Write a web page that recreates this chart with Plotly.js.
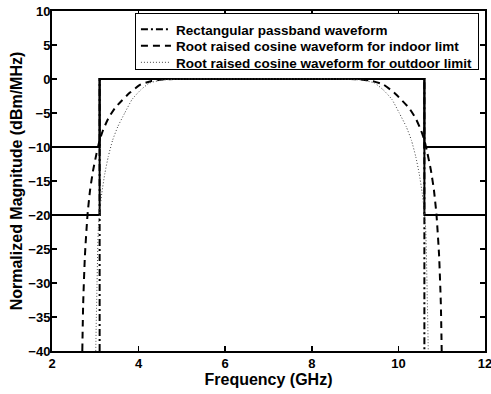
<!DOCTYPE html>
<html>
<head>
<meta charset="utf-8">
<script src="https://cdn.plot.ly/plotly-3.0.1.min.js"></script>
<style>html,body{margin:0;padding:0;background:#fff;}#chart{width:491px;height:394px;}</style>
</head>
<body>
<div id="chart"></div>
<script>
// FCC masks (solid)
const maskFreq = [2, 3.1, 3.1, 10.6, 10.6, 12];
const indoorMask = [-10, -10, 0, 0, -10, -10];
const outdoorMask = [-20, -20, 0, 0, -20, -20];

// Rectangular passband waveform
const rectFreq = [3.1, 3.1, 10.6, 10.6];
const rectMag = [-40, 0, 0, -40];

// Root raised cosine waveform, indoor limit
const rrcIndoorFreq = [2.70, 2.72, 2.76, 2.82, 2.88, 2.95, 3.03, 3.10, 3.18, 3.30, 3.45, 3.61, 3.80, 4.05, 4.30, 4.60, 5.00,
  8.70, 9.10, 9.40, 9.65, 9.90, 10.09, 10.25, 10.40, 10.52, 10.60, 10.67, 10.75, 10.82, 10.88, 10.94, 10.98, 11.00];
const rrcIndoorMag = [-40, -33, -26, -20, -16.3, -13.4, -10.9, -9.0, -7.5, -5.8, -4.3, -3.2, -2.0, -0.8, -0.3, -0.05, 0,
  0, -0.05, -0.3, -0.8, -2.0, -3.2, -4.3, -5.8, -7.5, -9.0, -10.9, -13.4, -16.3, -20, -26, -33, -40];

// Root raised cosine waveform, outdoor limit
const rrcOutdoorFreq = [3.01, 3.04, 3.07, 3.11, 3.15, 3.22, 3.30, 3.40, 3.52, 3.68, 3.85, 4.05, 4.25, 4.50, 4.80, 5.10,
  8.60, 8.90, 9.20, 9.45, 9.65, 9.85, 10.02, 10.18, 10.30, 10.40, 10.48, 10.55, 10.59, 10.63, 10.66, 10.69];
const rrcOutdoorMag = [-40, -30, -22, -19, -16.8, -13.9, -11.4, -9.0, -7.0, -5.0, -3.0, -1.6, -0.6, -0.2, -0.05, 0,
  0, -0.05, -0.2, -0.6, -1.6, -3.0, -5.0, -7.0, -9.0, -11.4, -13.9, -16.8, -19, -22, -30, -40];

const xTicks = [2, 4, 6, 8, 10, 12];
const xTickText = ['2', '4', '6', '8', '10', '12'];
const yTicks = [-40, -35, -30, -25, -20, -15, -10, -5, 0, 5, 10];
const yTickText = ['\u221240', '\u221235', '\u221230', '\u221225', '\u221220', '\u221215', '\u221210', '\u22125', '0', '5', '10'];

const seriesNames = ['Rectangular passband waveform',
  'Root raised cosine waveform for indoor limt',
  'Root raised cosine waveform for outdoor limit'];

const FONT = 'Liberation Sans, Arial, Helvetica, sans-serif';
const b = s => '<b>' + s + '</b>';

const traces = [
  {x: maskFreq, y: indoorMask, mode: 'lines', line: {color: '#000', width: 2}, showlegend: false, hoverinfo: 'skip'},
  {x: maskFreq, y: outdoorMask, mode: 'lines', line: {color: '#000', width: 2}, showlegend: false, hoverinfo: 'skip'},
  {x: rectFreq, y: rectMag, mode: 'lines', name: b(seriesNames[0]),
   line: {color: '#000', width: 2, dash: '7px,3px,2px,3px'}},
  {x: rrcIndoorFreq, y: rrcIndoorMag, mode: 'lines', name: b(seriesNames[1]),
   line: {color: '#000', width: 2, dash: '7px,5px', shape: 'spline', smoothing: 0.5}},
  {x: rrcOutdoorFreq, y: rrcOutdoorMag, mode: 'lines', name: b(seriesNames[2]),
   line: {color: '#444', width: 1, dash: '1px,2px', shape: 'spline', smoothing: 0.5}}
];

const axisCommon = {
  showline: true, linecolor: '#000', linewidth: 2, mirror: 'ticks',
  ticks: 'inside', ticklen: 5, tickwidth: 1.5, tickcolor: '#000',
  showgrid: false, zeroline: false, ticklabeloverflow: 'allow',
  tickfont: {family: FONT, size: 13, color: '#000'}
};

const layout = {
  width: 491, height: 394,
  margin: {l: 52, r: 6, t: 11, b: 43},
  paper_bgcolor: '#fff', plot_bgcolor: '#fff',
  font: {family: FONT, color: '#000'},
  xaxis: Object.assign({}, axisCommon, {
    range: [2, 12], tickmode: 'array', tickvals: xTicks, ticktext: xTickText.map(b),
    ticklabelstandoff: -1,
    title: {text: b('Frequency (GHz)'), font: {family: FONT, size: 16, color: '#000'}, standoff: 2}
  }),
  yaxis: Object.assign({}, axisCommon, {
    range: [-40, 10], tickmode: 'array', tickvals: yTicks, ticktext: yTickText.map(b),
    ticklabelstandoff: -3,
    title: {text: b('Normalized Magnitude (dBm/MHz)'), font: {family: FONT, size: 16, color: '#000'}, standoff: 2}
  }),
  legend: {
    x: 0.986, xanchor: 'right', y: 0.994, yanchor: 'top',
    bgcolor: '#fff', bordercolor: '#000', borderwidth: 1,
    font: {family: FONT, size: 13.5, color: '#000'},
    tracegroupgap: 0
  },
  showlegend: true
};

Plotly.newPlot('chart', traces, layout, {staticPlot: true, displayModeBar: false}).then(gd => {
  // tighten legend row spacing to match the reference
  try {
    const items = gd.querySelectorAll('.legend .traces');
    if (items.length > 1) {
      const parse = el => {
        const m = /translate\(\s*([-\d.]+)[ ,]+([-\d.]+)/.exec(el.getAttribute('transform') || '');
        return m ? [parseFloat(m[1]), parseFloat(m[2])] : null;
      };
      const p0 = parse(items[0]), p1 = parse(items[1]);
      if (p0 && p1) {
        const oldStep = p1[1] - p0[1];
        const newStep = 16.5;
        items.forEach((el, i) => {
          const p = parse(el);
          if (p) el.setAttribute('transform', 'translate(' + p[0] + ',' + (p0[1] + i * newStep) + ')');
        });
        const shrink = (oldStep - newStep) * (items.length - 1) + 9;
        const bg = gd.querySelector('.legend rect.bg');
        if (bg) bg.setAttribute('height', parseFloat(bg.getAttribute('height')) - shrink);
        const sb = gd.querySelector('.legend .scrollbox');
        if (sb) {
          const m = /translate\(\s*([-\d.]+)[ ,]+([-\d.]+)/.exec(sb.getAttribute('transform') || '');
          if (m) sb.setAttribute('transform', 'translate(' + m[1] + ',' + (parseFloat(m[2]) + 1) + ')');
        }
      }
    }
  } catch (e) {}
});
</script>
</body>
</html>
